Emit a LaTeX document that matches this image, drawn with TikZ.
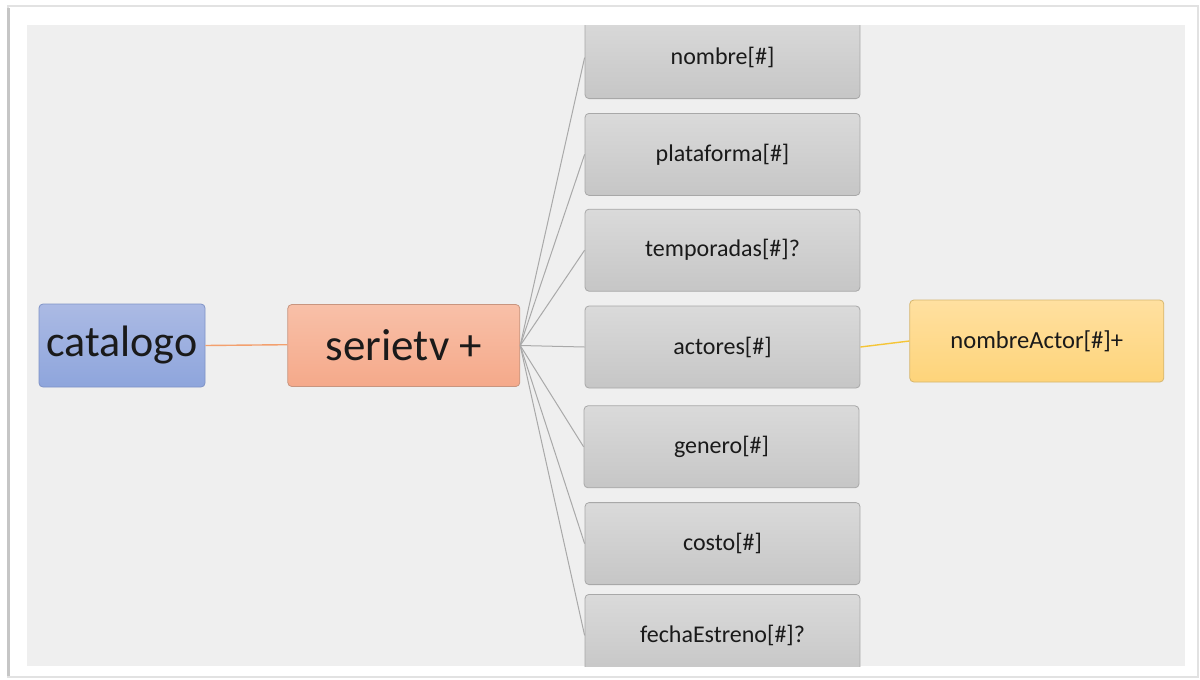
\documentclass[tikz,border=0pt]{standalone}
\usepackage{fontspec}
\setmainfont{Carlito}
\usetikzlibrary{positioning}
\definecolor{bggray}{HTML}{EFEFEF}
\definecolor{framegray}{HTML}{E2E2E2}
\definecolor{txt}{HTML}{1A1A1A}
\definecolor{blueline}{HTML}{7F93C6}
\definecolor{bluetop}{HTML}{ABBAE4}
\definecolor{bluebot}{HTML}{8EA5DC}
\definecolor{salmonline}{HTML}{C8957F}
\definecolor{salmontop}{HTML}{F8C0A8}
\definecolor{salmonbot}{HTML}{F5A98A}
\definecolor{grayline}{HTML}{A8A8A8}
\definecolor{graytop}{HTML}{DADADA}
\definecolor{graybot}{HTML}{C6C6C6}
\definecolor{goldline}{HTML}{D6B66E}
\definecolor{goldtop}{HTML}{FFE0A0}
\definecolor{goldbot}{HTML}{FED47A}
\definecolor{linkgray}{HTML}{A9A9A9}
\definecolor{catlink}{HTML}{F3A06E}
\definecolor{actorlink}{HTML}{F5C537}
\tikzset{
    box/.style = {
        draw,
        rounded corners=2pt,
        text=txt,
        line width=0.4pt,
        },
    root/.style = {
        box,
        minimum width=83pt,
        minimum height=41.5pt,
        font=\fontsize{22}{24}\selectfont,
        draw=blueline,
        top color=bluetop,
        bottom color=bluebot,
        },
    serie/.style = {
        box,
        minimum width=116pt,
        minimum height=41pt,
        font=\fontsize{22.5}{24}\selectfont,
        draw=salmonline,
        top color=salmontop,
        bottom color=salmonbot,
        },
    attr/.style = {
        box,
        minimum width=137.5pt,
        minimum height=41pt,
        font=\fontsize{12}{14}\selectfont,
        draw=grayline,
        top color=graytop,
        bottom color=graybot,
        },
    child/.style = {
        box,
        minimum width=127pt,
        minimum height=41pt,
        font=\fontsize{12.3}{14}\selectfont,
        draw=goldline,
        top color=goldtop,
        bottom color=goldbot,
        },
    link/.style = {
        draw=linkgray,
        line width=0.5pt,
        },
    catedge/.style = {
        draw=catlink,
        line width=0.7pt,
        },
    actoredge/.style = {
        draw=actorlink,
        line width=0.7pt,
        },
}

\begin{document}
\begin{tikzpicture}[x=0.5pt, y=-0.5pt]
    \useasboundingbox (0,0) rectangle (1200,680);
    % page and frame
    \fill[white] (0,0) rectangle (1200,680);
    \draw[framegray, line width=1pt] (8,6) rectangle (1198,677);
    \draw[gray!45, line width=1.2pt] (8.5,8) -- (8.5,676);
    \fill[bggray] (27,25) rectangle (1185,666);

    \begin{scope}
        \clip (27,25) rectangle (1185,666);
        \node[root] (catalogo) at (122,345.5) {catalogo};
        \node[serie, right=41pt of catalogo] (serietv) {serietv +};

        \node[attr] (actores) at (722.5,347) {actores[\#]};
        \node[attr, above=7pt of actores] (temporadas) {temporadas[\#]?};
        \node[attr, above=6.5pt of temporadas] (plataforma) {plataforma[\#]};
        \node[attr, above=7pt of plataforma] (nombre) {nombre[\#]};
        \node[attr, below=8.5pt of actores, xshift=-0.5pt] (genero) {genero[\#]};
        \node[attr, below=7pt of genero, xshift=0.5pt] (costo) {costo[\#]};
        \node[attr, below=4.5pt of costo] (fecha) {fechaEstreno[\#]?};

        \node[child, right=24.5pt of actores, yshift=3pt] (actor) {nombreActor[\#]+};

        \path[link] (serietv.east) -- (nombre.west);
        \path[link] (serietv.east) -- (plataforma.west);
        \path[link] (serietv.east) -- (temporadas.west);
        \path[link] (serietv.east) -- (actores.west);
        \path[link] (serietv.east) -- (genero.west);
        \path[link] (serietv.east) -- (costo.west);
        \path[link] (serietv.east) -- (fecha.west);
        \path[actoredge] (actores.east) -- (actor.west);
        \path[catedge] (catalogo.east) -- ([yshift=0.4pt]serietv.west);
    \end{scope}
\end{tikzpicture}
\end{document}
